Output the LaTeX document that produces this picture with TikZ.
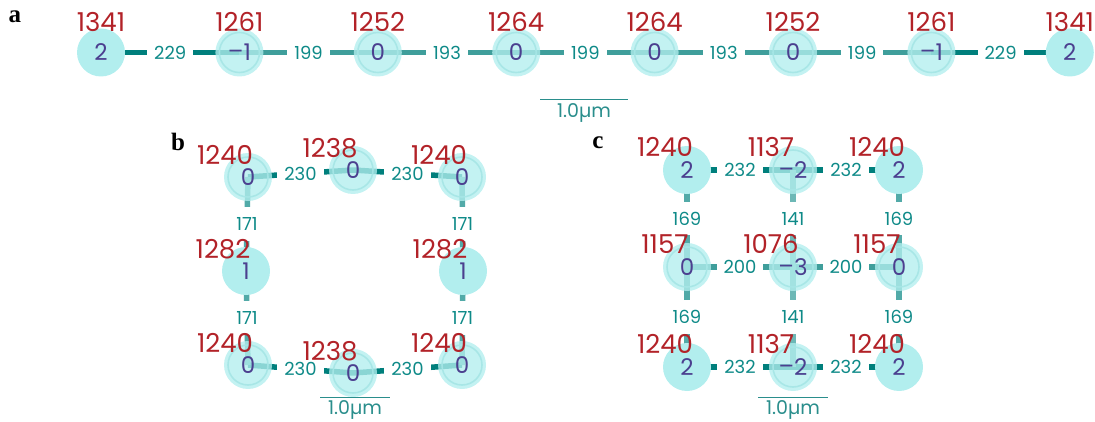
\documentclass[tikz,border=0pt]{standalone}
\usepackage{fontspec}
\setmainfont{Poppins}
\newfontfamily\tnr{Liberation Serif}
\definecolor{cfill}{HTML}{B2EEEE}
\definecolor{cring}{HTML}{A6E6E6}
\definecolor{cval}{HTML}{4B3F8F}
\definecolor{cred}{HTML}{B22228}
\definecolor{clab}{HTML}{0E8A88}
\definecolor{edark}{HTML}{007F7C}
\definecolor{emid}{HTML}{3F9E9B}
\definecolor{elight}{HTML}{52AAA8}
\definecolor{elighter}{HTML}{6DB8B6}
\definecolor{csb}{HTML}{2A8E8C}
\pgfdeclarelayer{edges}
\pgfsetlayers{edges,main}
\newcommand{\mn}{\raisebox{1.2pt}{–}}
\tikzset{
  solidn/.style={circle, minimum size=48pt, inner sep=0pt, fill=cfill, text=cval, font=\fontsize{23}{23}\selectfont},
  ringn/.style={circle, minimum size=48pt, inner sep=0pt, fill=cfill, fill opacity=0.78, text opacity=1, text=cval, font=\fontsize{23}{23}\selectfont,
    path picture={\draw[cring, line width=1.6pt, draw opacity=0.9] (path picture bounding box.center) circle (20pt);}},
  rlab/.style={text=cred, inner sep=0pt, font=\fontsize{26}{26}\selectfont},
  elab/.style={fill=white, inner xsep=7pt, inner ysep=10pt, text=clab, font=\fontsize{18}{18}\selectfont},
  ebar/.style={line width=5.5pt},
  sbar/.style={csb, line width=1pt},
  sbtext/.style={text=csb, inner sep=0pt, font=\fontsize{19}{19}\selectfont},
  plabel/.style={inner sep=0pt, font=\tnr\bfseries\fontsize{25}{25}\selectfont}
}
\begin{document}
\begin{tikzpicture}[x=1pt,y=-1pt]
\useasboundingbox (0,0) rectangle (1095,422);
% ---------------- panel a
\node[plabel] (pa) at (15,17) {a};
\node[solidn] (a1) at (101,52.5) {2};
\node[ringn]  (a2) at (239.4,52.5) {\mn1};
\node[ringn]  (a3) at (377.8,52.5) {0};
\node[ringn]  (a4) at (516.2,52.5) {0};
\node[ringn]  (a5) at (654.6,52.5) {0};
\node[ringn]  (a6) at (793,52.5) {0};
\node[ringn]  (a7) at (931.4,52.5) {\mn1};
\node[solidn] (a8) at (1069.8,52.5) {2};
\foreach \n/\t in {a1/1341,a2/1261,a3/1252,a4/1264,a5/1264,a6/1252,a7/1261,a8/1341}
  \node[rlab] at ([yshift=30.5pt]\n.center) {\t};
\begin{pgfonlayer}{edges}
\draw[ebar,edark] (a1.center) -- node[elab]{229} (a2.center);
\draw[ebar,emid] (a2.center) -- node[elab]{199} (a3.center);
\draw[ebar,emid] (a3.center) -- node[elab]{193} (a4.center);
\draw[ebar,emid] (a4.center) -- node[elab]{199} (a5.center);
\draw[ebar,emid] (a5.center) -- node[elab]{193} (a6.center);
\draw[ebar,emid] (a6.center) -- node[elab]{199} (a7.center);
\draw[ebar,edark] (a7.center) -- node[elab]{229} (a8.center);
\end{pgfonlayer}
\coordinate (sa1) at (540,100);
\coordinate (sa2) at (628,100);
\draw[sbar] (sa1) -- (sa2);
\node[sbtext] (sat) at (584,113) {1.0µm};
% ---------------- panel b
\node[plabel] (pb) at (178,142) {b};
\node[ringn]  (b1) at (248,177) {0};
\node[ringn]  (b2) at (353,170) {0};
\node[ringn]  (b3) at (462,177) {0};
\node[solidn] (b4) at (246,271) {1};
\node[solidn] (b5) at (463,271) {1};
\node[ringn]  (b6) at (248,365) {0};
\node[ringn]  (b7) at (353,373) {0};
\node[ringn]  (b8) at (462,365) {0};
\foreach \n/\t in {b1/1240,b2/1238,b3/1240,b4/1282,b5/1282,b6/1240,b7/1238,b8/1240}
  \node[rlab] at ([xshift=-23pt,yshift=22pt]\n.center) {\t};
\begin{pgfonlayer}{edges}
\draw[ebar,edark] (b1.center) -- node[elab]{230} (b2.center);
\draw[ebar,edark] (b2.center) -- node[elab]{230} (b3.center);
\draw[ebar,edark] (b6.center) -- node[elab]{230} (b7.center);
\draw[ebar,edark] (b7.center) -- node[elab]{230} (b8.center);
\draw[ebar,elight] (b1.center) -- node[elab]{171} (b4.center);
\draw[ebar,elight] (b4.center) -- node[elab]{171} (b6.center);
\draw[ebar,elight] (b3.center) -- node[elab]{171} (b5.center);
\draw[ebar,elight] (b5.center) -- node[elab]{171} (b8.center);
\end{pgfonlayer}
\coordinate (sb1) at (320,397);
\coordinate (sb2) at (390,397);
\draw[sbar] (sb1) -- (sb2);
\node[sbtext] (sbt) at (355,410) {1.0µm};
% ---------------- panel c
\node[plabel] (pc) at (598,143) {c};
\node[solidn] (c1) at (687,170) {2};
\node[ringn]  (c2) at (793,170) {\mn2};
\node[solidn] (c3) at (899,170) {2};
\node[ringn]  (c4) at (687,267) {0};
\node[ringn]  (c5) at (793,267) {\mn3};
\node[ringn]  (c6) at (899,267) {0};
\node[solidn] (c7) at (687,367) {2};
\node[ringn]  (c8) at (793,367) {\mn2};
\node[solidn] (c9) at (899,367) {2};
\foreach \n/\t in {c1/1240,c2/1137,c3/1240,c4/1157,c5/1076,c6/1157,c7/1240,c8/1137,c9/1240}
  \node[rlab] at ([xshift=-22pt,yshift=23pt]\n.center) {\t};
\begin{pgfonlayer}{edges}
\draw[ebar,edark] (c1.center) -- node[elab]{232} (c2.center);
\draw[ebar,edark] (c2.center) -- node[elab]{232} (c3.center);
\draw[ebar,emid] (c4.center) -- node[elab]{200} (c5.center);
\draw[ebar,emid] (c5.center) -- node[elab]{200} (c6.center);
\draw[ebar,edark] (c7.center) -- node[elab]{232} (c8.center);
\draw[ebar,edark] (c8.center) -- node[elab]{232} (c9.center);
\draw[ebar,elight] (c1.center) -- node[elab]{169} (c4.center);
\draw[ebar,elight] (c4.center) -- node[elab]{169} (c7.center);
\draw[ebar,elighter] (c2.center) -- node[elab]{141} (c5.center);
\draw[ebar,elighter] (c5.center) -- node[elab]{141} (c8.center);
\draw[ebar,elight] (c3.center) -- node[elab]{169} (c6.center);
\draw[ebar,elight] (c6.center) -- node[elab]{169} (c9.center);
\end{pgfonlayer}
\coordinate (sc1) at (758,397);
\coordinate (sc2) at (828,397);
\draw[sbar] (sc1) -- (sc2);
\node[sbtext] (sct) at (793,410) {1.0µm};
\end{tikzpicture}
\end{document}
